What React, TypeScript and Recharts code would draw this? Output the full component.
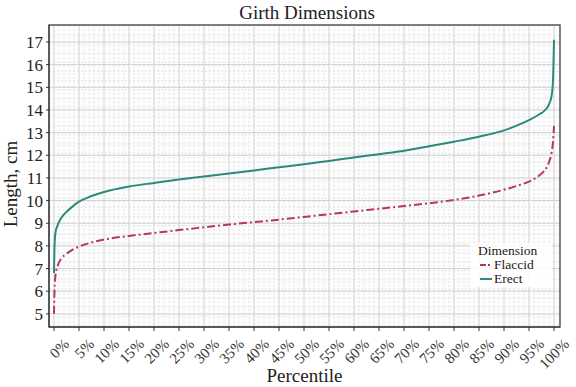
import { CartesianGrid, Line, LineChart, ReferenceArea, XAxis, YAxis } from 'recharts'

const PERCENTILES = [0, 0.1, 0.3, 0.7, 1.5, 2.5, 3.5, 5, 7.5, 10, 15, 20, 25, 30, 35, 40, 45, 50, 55, 60, 65, 70, 75, 80, 85, 90, 93, 95, 97, 98, 99, 99.5, 99.8, 100]

const ERECT = [6.8, 8.0, 8.6, 8.9, 9.25, 9.5, 9.7, 9.95, 10.2, 10.38, 10.62, 10.78, 10.93, 11.06, 11.2, 11.33, 11.47, 11.6, 11.75, 11.9, 12.05, 12.2, 12.4, 12.6, 12.82, 13.1, 13.35, 13.55, 13.8, 13.95, 14.25, 14.6, 15.3, 17.1]

const FLACCID = [5.0, 6.0, 6.7, 7.1, 7.45, 7.65, 7.8, 7.97, 8.15, 8.28, 8.44, 8.57, 8.7, 8.82, 8.94, 9.05, 9.16, 9.28, 9.4, 9.52, 9.64, 9.76, 9.88, 10.03, 10.22, 10.48, 10.68, 10.84, 11.1, 11.3, 11.7, 12.1, 12.6, 13.3]

const X_TICKS = [0, 5, 10, 15, 20, 25, 30, 35, 40, 45, 50, 55, 60, 65, 70, 75, 80, 85, 90, 95, 100]
const Y_TICKS = [5, 6, 7, 8, 9, 10, 11, 12, 13, 14, 15, 16, 17]

const X_DOMAIN = [-1, 101.2]
const Y_DOMAIN = [4.42, 17.75]

const X_MINOR = Array.from({ length: 101 }, (_, i) => i).filter((v) => v % 5 !== 0)
const Y_MINOR = Array.from({ length: 33 }, (_, i) => 4.5 + i * 0.4).filter((v) => Math.abs(v - Math.round(v)) > 0.05)

const FONT = '"Liberation Serif", "DejaVu Serif", serif'
const TEAL = '#2b8a7c'
const CRIMSON = '#b5365f'

const data = PERCENTILES.map((p, i) => ({ p, erect: ERECT[i], flaccid: FLACCID[i] }))

function XTick({ x, y, payload }: any) {
    return (
        <text
            x={x + 16}
            y={y + 12}
            transform={`rotate(-45, ${x + 16}, ${y + 12})`}
            textAnchor="end"
            fontSize={15}
            fontFamily={FONT}
            fill="#333"
        >
            {`${payload.value}%`}
        </text>
    )
}

function YLabel({ viewBox }: any) {
    const cy = viewBox.y + viewBox.height / 2 + 8
    return (
        <text x={17} y={cy} transform={`rotate(-90, 17, ${cy})`} textAnchor="middle" fontSize={19} fontFamily={FONT} fill="#222">
            Length, cm
        </text>
    )
}

export default function App() {
    return (
        <div style={{ position: 'absolute', left: 0, top: 0, width: 576, height: 387, background: '#fff', fontFamily: FONT }}>
            <div style={{ position: 'absolute', left: 0, width: 614, top: 2, textAlign: 'center', fontSize: 19, color: '#222' }}>
                Girth Dimensions
            </div>
            <LineChart width={576} height={387} data={data} margin={{ top: 25, right: 16, bottom: 0, left: 0 }}>
                <CartesianGrid
                    fill="#fdfdfd"
                    stroke="#e4e4e4"
                    strokeDasharray="2 2"
                    verticalValues={X_MINOR}
                    horizontalValues={Y_MINOR}
                />
                <CartesianGrid stroke="#d0d0d0" verticalValues={X_TICKS} horizontalValues={Y_TICKS} />
                <XAxis
                    dataKey="p"
                    type="number"
                    domain={X_DOMAIN}
                    ticks={X_TICKS}
                    interval={0}
                    allowDataOverflow
                    height={60}
                    tickSize={4}
                    stroke="#333"
                    tick={<XTick />}
                    label={{ value: 'Percentile', position: 'insideBottom', offset: 5, fontSize: 19, fill: '#222', fontFamily: FONT }}
                />
                <YAxis
                    type="number"
                    domain={Y_DOMAIN}
                    ticks={Y_TICKS}
                    interval={0}
                    allowDataOverflow
                    width={49}
                    tickSize={3}
                    tickMargin={3}
                    stroke="#333"
                    tick={{ fontSize: 17, fill: '#222', fontFamily: FONT }}
                    label={<YLabel />}
                />
                <ReferenceArea
                    x1={X_DOMAIN[0]}
                    x2={X_DOMAIN[1]}
                    y1={Y_DOMAIN[0]}
                    y2={Y_DOMAIN[1]}
                    fill="none"
                    stroke="#555"
                    strokeWidth={1.5}
                    ifOverflow="extendDomain"
                />
                <Line
                    dataKey="flaccid"
                    type="monotone"
                    stroke={CRIMSON}
                    strokeWidth={2}
                    strokeDasharray="8 3 2 3"
                    dot={false}
                    isAnimationActive={false}
                />
                <Line dataKey="erect" type="monotone" stroke={TEAL} strokeWidth={2} dot={false} isAnimationActive={false} />
            </LineChart>
            <div
                style={{
                    position: 'absolute',
                    left: 470,
                    top: 243,
                    width: 78,
                    padding: '1px 2px',
                    background: 'rgba(255,255,255,0.85)',
                    fontSize: 13.5,
                    lineHeight: '14px',
                    color: '#222',
                }}
            >
                <div style={{ paddingLeft: 6 }}>Dimension</div>
                <div style={{ display: 'flex', alignItems: 'center', paddingLeft: 8 }}>
                    <svg width={12} height={6} style={{ marginRight: 2 }}>
                        <line x1={0} y1={3} x2={12} y2={3} stroke={CRIMSON} strokeWidth={2} strokeDasharray="6 2 2 2" />
                    </svg>
                    Flaccid
                </div>
                <div style={{ display: 'flex', alignItems: 'center', paddingLeft: 8 }}>
                    <svg width={12} height={6} style={{ marginRight: 2 }}>
                        <line x1={0} y1={3} x2={12} y2={3} stroke={TEAL} strokeWidth={2} />
                    </svg>
                    Erect
                </div>
            </div>
        </div>
    )
}
